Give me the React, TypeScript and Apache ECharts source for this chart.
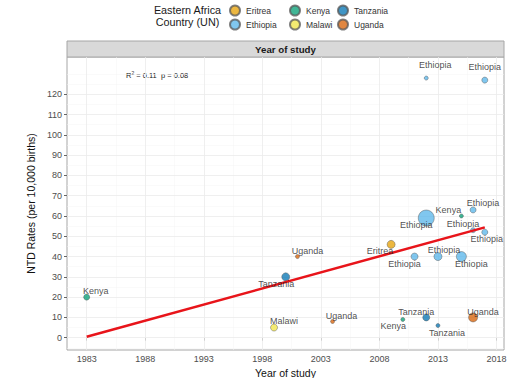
import React, { useEffect, useRef } from "react";
import * as echarts from "echarts";

// ---- data ----
const countries = ["Eritrea", "Ethiopia", "Kenya", "Malawi", "Tanzania", "Uganda"];
const countryColors = ["#E69F00", "#56B4E9", "#009E73", "#F0E442", "#0072B2", "#D55E00"];

const pointCountry = [
  "Kenya", "Malawi", "Tanzania", "Uganda", "Uganda", "Eritrea", "Kenya", "Ethiopia", "Ethiopia", "Tanzania",
  "Ethiopia", "Ethiopia", "Tanzania", "Kenya", "Ethiopia", "Ethiopia", "Ethiopia", "Uganda", "Ethiopia", "Ethiopia",
];
const pointYear = [1983, 1999, 2000, 2001, 2004, 2009, 2010, 2011, 2012, 2012, 2012, 2013, 2013, 2015, 2015, 2016, 2016, 2016, 2017, 2017];
const pointRate = [20, 5, 30, 40, 8, 46, 9, 40, 59, 10, 128, 40, 6, 60, 40, 63, 53, 10, 52, 127];
// relative study size (marker diameter)
const pointStudySize = [6, 7, 8, 4, 4, 8, 4, 7, 16, 7, 4, 8, 4, 4, 10, 6, 5, 9, 6, 6];

// fitted regression line endpoints
const fitYears = [1983, 2017];
const fitRates = [0.5, 54.4];

// axis breaks
const xBreaks = [1983, 1988, 1993, 1998, 2003, 2008, 2013, 2018];
const xMinorBreaks = [1985.5, 1990.5, 1995.5, 2000.5, 2005.5, 2010.5, 2015.5];
const yBreaks = [0, 10, 20, 30, 40, 50, 60, 70, 80, 90, 100, 110, 120];
const yMinorBreaks = [-5, 5, 15, 25, 35, 45, 55, 65, 75, 85, 95, 105, 115, 125, 130];

// ---- layout (label placement in px, relative to points) ----
const labelOffsets: [number, number][] = [
  [9, -6], [10, -7], [-9.5, 7], [10, -6], [9, -5.5], [-11, 7], [-9.5, 6.5], [-10, 7], [-10, 7], [-10, -5.6],
  [9, -13], [6, -6.7], [9, 7], [-13, -6], [10, 7], [10, -7], [-10, -6.5], [10, -5.6], [2, 7], [0, -13],
];

const FONT = "'Liberation Sans', Arial, Helvetica, sans-serif";

export default function App() {
  const ref = useRef<HTMLDivElement>(null);

  useEffect(() => {
    document.body.style.margin = "0";
    const chart = echarts.init(ref.current!, null, { renderer: "svg" });

    const majorLine = { color: "#EBEBEB", width: 0.8, type: "solid" as const };
    const minorLine = { color: "#F4F4F4", width: 0.5, type: "solid" as const };

    const gridMarks = [
      ...yMinorBreaks.map((v) => ({ yAxis: v, lineStyle: minorLine })),
      ...xMinorBreaks.map((v) => ({ xAxis: v, lineStyle: minorLine })),
      ...yBreaks.map((v) => ({ yAxis: v, lineStyle: majorLine })),
      ...xBreaks.map((v) => ({ xAxis: v, lineStyle: majorLine })),
    ];

    const countrySeries = countries.map((c, ci) => ({
      name: c,
      type: "scatter",
      z: 2,
      data: pointCountry
        .map((pc, i) => ({ pc, i }))
        .filter((d) => d.pc === c)
        .map(({ i }) => ({ value: [pointYear[i], pointRate[i]], symbolSize: pointStudySize[i] })),
      itemStyle: {
        color: countryColors[ci],
        opacity: 0.75,
        borderColor: "#555",
        borderWidth: 0.6,
      },
      emphasis: { disabled: true },
      silent: true,
    }));

    const labelSeries = {
      type: "scatter",
      z: 4,
      silent: true,
      symbolSize: 0.01,
      itemStyle: { color: "rgba(0,0,0,0)" },
      data: pointCountry.map((pc, i) => ({
        value: [pointYear[i], pointRate[i]],
        label: {
          show: true,
          formatter: pc,
          position: "inside",
          offset: labelOffsets[i],
          color: "#222",
          fontSize: 9,
          fontFamily: FONT,
        },
      })),
    };

    const legendBase = {
      orient: "vertical",
      top: 4.5,
      padding: 0,
      itemGap: 2,
      itemWidth: 10,
      itemHeight: 10,
      icon: "circle",
      selectedMode: false,
      textStyle: { fontSize: 8.5, color: "#333", fontFamily: FONT, padding: [0, 0, 0, 1] },
    };

    chart.setOption({
      animation: false,
      backgroundColor: "#fff",
      grid: {
        left: 67,
        right: 20,
        top: 57,
        bottom: 28,
        outerBoundsMode: "none",
        containLabel: false,
        show: true,
        borderColor: "#A6A6A6",
        borderWidth: 1,
        backgroundColor: "#fff",
      },
      legend: [
        { ...legendBase, left: 229, data: ["Eritrea", "Ethiopia"] },
        { ...legendBase, left: 289, data: ["Kenya", "Malawi"] },
        { ...legendBase, left: 337, data: ["Tanzania", "Uganda"] },
      ],
      xAxis: {
        type: "value",
        min: 1981.32,
        max: 2018.64,
        name: "Year of study",
        nameLocation: "middle",
        nameGap: 13,
        nameTextStyle: { fontSize: 10.5, color: "#111", fontFamily: FONT },
        axisLine: { show: false },
        axisTick: { show: true, customValues: xBreaks, length: 3, lineStyle: { color: "#666" } },
        axisLabel: {
          customValues: xBreaks,
          formatter: (v: number) => String(v),
          fontSize: 9,
          color: "#4D4D4D",
          margin: 4,
          fontFamily: FONT,
        },
        splitLine: { show: false },
      },
      yAxis: {
        type: "value",
        min: -6.07,
        max: 138.4,
        name: "NTD Rates (per 10,000 births)",
        nameLocation: "middle",
        nameGap: 24,
        nameTextStyle: { fontSize: 10.5, color: "#111", fontFamily: FONT },
        axisLine: { show: false },
        axisTick: { show: true, customValues: yBreaks, length: 3, lineStyle: { color: "#666" } },
        axisLabel: {
          customValues: yBreaks,
          formatter: (v: number) => String(v),
          fontSize: 9,
          color: "#4D4D4D",
          margin: 5,
          fontFamily: FONT,
        },
        splitLine: { show: false },
      },
      graphic: [
        {
          type: "rect",
          shape: { x: 67, y: 41, width: 437, height: 16 },
          style: { fill: "#D9D9D9", stroke: "#A6A6A6", lineWidth: 1 },
          silent: true,
        },
        {
          type: "text",
          x: 285.5,
          y: 49,
          style: {
            text: "Year of study",
            fill: "#1a1a1a",
            font: `bold 9.7px ${FONT}`,
            textAlign: "center",
            textVerticalAlign: "middle",
          },
          silent: true,
        },
        {
          type: "text",
          x: 187.5,
          y: 9.5,
          style: {
            text: "Eastern Africa",
            fill: "#1a1a1a",
            font: `10.8px ${FONT}`,
            textAlign: "center",
            textVerticalAlign: "middle",
          },
          silent: true,
        },
        {
          type: "text",
          x: 187.5,
          y: 21.5,
          style: {
            text: "Country (UN)",
            fill: "#1a1a1a",
            font: `10.8px ${FONT}`,
            textAlign: "center",
            textVerticalAlign: "middle",
          },
          silent: true,
        },
        {
          type: "text",
          x: 126,
          y: 75,
          style: {
            text: "R{s|2} = 0.11  p = 0.08",
            fill: "#1a1a1a",
            fontSize: 7.5,
            fontFamily: FONT,
            textVerticalAlign: "middle",
            rich: { s: { fontSize: 5, verticalAlign: "top", padding: [0, 0, 4, 0], fontFamily: FONT, fill: "#1a1a1a" } },
          },
          silent: true,
        },
      ],
      series: [
        {
          type: "line",
          z: 1,
          silent: true,
          data: [],
          markLine: {
            z: 1,
            silent: true,
            symbol: ["none", "none"],
            label: { show: false },
            emphasis: { disabled: true },
            data: gridMarks,
          },
        },
        ...countrySeries,
        {
          type: "line",
          z: 3,
          silent: true,
          symbol: "none",
          data: fitYears.map((y, i) => [y, fitRates[i]]),
          lineStyle: { color: "#E8141A", width: 2.5 },
        },
        labelSeries,
      ],
    });

    return () => chart.dispose();
  }, []);

  return <div ref={ref} style={{ width: 524, height: 378 }} />;
}
